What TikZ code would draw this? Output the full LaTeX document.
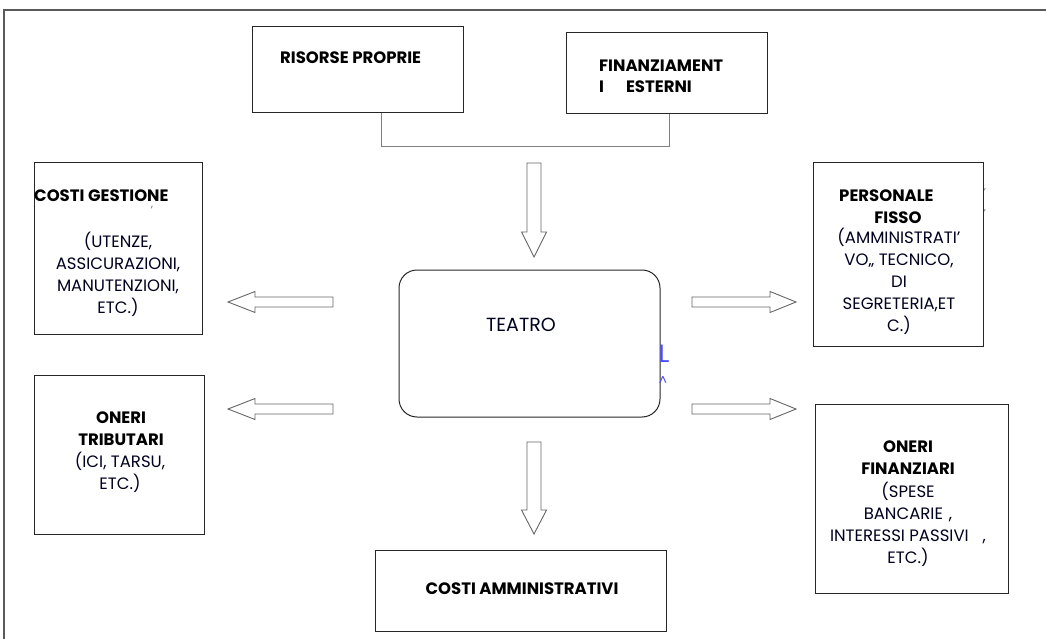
\documentclass[tikz,border=0pt]{standalone}
\usepackage{fontspec}
\setmainfont{Poppins}
\begin{document}
\begin{tikzpicture}[x=1pt,y=-1pt]
\tikzset{
  box/.style={draw=black!85, line width=1pt, anchor=north west, inner sep=0pt, outer sep=0pt},
  conn/.style={draw=black!50, line width=0.9pt},
  barrow/.style={draw=black!60, line width=0.9pt, fill=white},
  frame/.style={draw=black!65, line width=1.1pt},
  ttl/.style={font=\fontsize{16.5}{22}\selectfont\bfseries, text=black, inner sep=0pt, align=center},
  dsc/.style={font=\fontsize{16.5}{22}\selectfont, text=black!85!blue!80!black, inner sep=0pt, align=center},
  tinymark/.style={font=\fontsize{10}{10}\selectfont, text=black!60, inner sep=0pt},
  bluemark/.style={font=\fontsize{25}{25}\selectfont, text=blue!70!white, inner sep=0pt},
  pics/fatarrow/.style n args={4}{code={
    \draw[barrow] (0,-#2) -- ({#1-#4},-#2) -- ({#1-#4},-#3) -- (#1,0) -- ({#1-#4},#3) -- ({#1-#4},#2) -- (0,#2) -- cycle;}}
}
\useasboundingbox (0,0) rectangle (1046,639);
% page frame (top and left edges)
\draw[frame] (4,639) -- (4,10) -- (1046,10);

% boxes
\node[box, minimum width=211pt, minimum height=86pt] (ris) at (252,27) {};
\node[box, minimum width=201pt, minimum height=81pt] (fin) at (566,33) {};
\node[box, minimum width=168pt, minimum height=171pt] (gest) at (34,163) {};
\node[box, minimum width=170pt, minimum height=159pt] (trib) at (34,375) {};
\node[box, minimum width=170pt, minimum height=183pt] (pers) at (813,163) {};
\node[box, minimum width=193pt, minimum height=189pt] (finz) at (815,404) {};
\node[box, minimum width=291pt, minimum height=81pt] (amm) at (375,550) {};
\node[box, rounded corners=18pt, minimum width=261pt, minimum height=147pt] (teatro) at (399,270) {};

% bracket joining the two sources
\coordinate (brl) at ([xshift=24pt]ris.south);
\coordinate (brr) at ([xshift=3pt]fin.south);
\draw[conn] (brl) -- ++(0,33) -| (brr);

% block arrows
\pic[rotate=-90] at (534,163) {fatarrow={94}{7}{12.5}{25}};
\pic[rotate=-90] at (534,442) {fatarrow={92}{7}{12.5}{24}};
\pic[rotate=180] at (333,302) {fatarrow={105}{5}{10.5}{27}};
\pic[rotate=180] at (333,409) {fatarrow={105}{5}{10.5}{27}};
\pic at (692,302) {fatarrow={104}{5}{10.5}{26}};
\pic at (692,409) {fatarrow={104}{5}{10.5}{26}};

% texts
\node[ttl, anchor=west] (tris) at (280,58) {RISORSE PROPRIE};
\node[ttl, anchor=west] (tfin1) at (599,66) {FINANZIAMENT};
\node[ttl, anchor=west] (tfin2) at (599,87) {I\hspace{22pt}ESTERNI};

\node[ttl, anchor=west] (tgest) at (34,196) {COSTI GESTIONE};
\node[tinymark] (mgest) at (152,208) {,};
\node[dsc] (dgest) at (118,274) {(UTENZE,\\ASSICURAZIONI,\\MANUTENZIONI,\\ETC.)};

\node[ttl] (ttrib) at (121,429) {ONERI\\TRIBUTARI};
\node[dsc] (dtrib) at (120,472) {(ICI, TARSU,\\ETC.)};

\node[ttl, anchor=west] (tpers1) at (839,196) {PERSONALE};
\node[ttl] (tpers2) at (898,218) {FISSO};
\node[dsc] (dpers) at (899,281) {(AMMINISTRATI'\\VO,, TECNICO,\\DI\\SEGRETERIA,ET\\C.)};
\node[tinymark] (mp1) at (985,192) {'};
\node[tinymark] (mp2) at (985,213) {'};

\node[ttl] (tfinz) at (908,458) {ONERI\\FINANZIARI};
\node[dsc] (dfinz) at (908,524) {(SPESE\\BANCARIE\hspace{6pt},\\INTERESSI PASSIVI\hspace{14pt},\\ETC.)};

\node[ttl] (tamm) at (522,589) {COSTI AMMINISTRATIVI};
\node[dsc, font=\fontsize{19}{22}\selectfont] (tteatro) at (521,325) {TEATRO};

\node[bluemark] (bl) at (664,354) {L};
\node[bluemark, font=\fontsize{13}{13}\selectfont] (bc) at (663,381) {\^{}};
\end{tikzpicture}
\end{document}
